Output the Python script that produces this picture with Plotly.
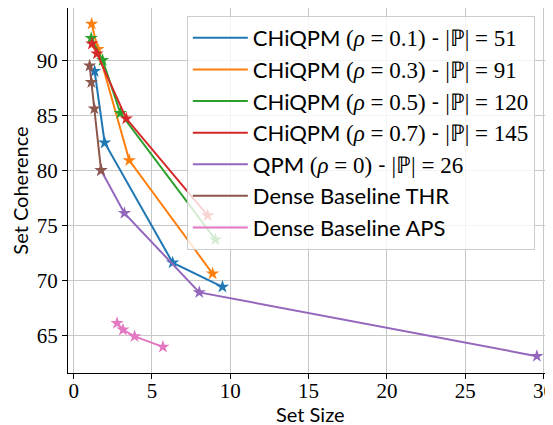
import plotly.graph_objects as go

# Data (x = Set Size, y = Set Coherence)
chiqpm01_x = [1.34, 1.98, 6.32, 9.50]
chiqpm01_y = [89.0, 82.5, 71.6, 69.4]
chiqpm03_x = [1.15, 1.55, 3.55, 8.87]
chiqpm03_y = [93.3, 91.0, 80.9, 70.6]
chiqpm05_x = [1.12, 1.85, 2.98, 9.05]
chiqpm05_y = [92.0, 90.0, 85.2, 73.7]
chiqpm07_x = [1.17, 1.49, 3.36, 8.55]
chiqpm07_y = [91.5, 90.6, 84.7, 75.9]
qpm_x = [1.75, 3.24, 8.02, 29.57]
qpm_y = [80.0, 76.1, 68.9, 63.1]
thr_x = [1.02, 1.13, 1.32, 1.75]
thr_y = [89.5, 88.0, 85.6, 80.0]
aps_x = [2.77, 3.15, 3.89, 5.70]
aps_y = [66.1, 65.5, 64.9, 63.95]

x_ticks = [0, 5, 10, 15, 20, 25, 30]
y_ticks = [65, 70, 75, 80, 85, 90]
x_title = "Set Size"
y_title = "Set Coherence"

SERIF = "Liberation Serif"
SANS = "Lato"

def m(s):
    return f"<span style='font-family:{SERIF};font-size:23px'>{s}</span>"

names = [
    "CHiQPM " + m("(<i>ρ</i> = 0.1)") + " - " + m("|ℙ| = 51"),
    "CHiQPM " + m("(<i>ρ</i> = 0.3)") + " - " + m("|ℙ| = 91"),
    "CHiQPM " + m("(<i>ρ</i> = 0.5)") + " - " + m("|ℙ| = 120"),
    "CHiQPM " + m("(<i>ρ</i> = 0.7)") + " - " + m("|ℙ| = 145"),
    "QPM " + m("(<i>ρ</i> = 0)") + " - " + m("|ℙ| = 26"),
    "Dense Baseline THR",
    "Dense Baseline APS",
]
series = [
    (chiqpm01_x, chiqpm01_y, "#1f77b4"),
    (chiqpm03_x, chiqpm03_y, "#ff7f0e"),
    (chiqpm05_x, chiqpm05_y, "#2ca02c"),
    (chiqpm07_x, chiqpm07_y, "#d62728"),
    (qpm_x, qpm_y, "#9467bd"),
    (thr_x, thr_y, "#8c564b"),
    (aps_x, aps_y, "#e377c2"),
]

fig = go.Figure()
for (xs, ys, c), n in zip(series, names):
    fig.add_trace(go.Scatter(
        x=xs, y=ys, name=n, mode="lines",
        line=dict(color=c, width=2), legendgroup=n,
    ))
    fig.add_trace(go.Scatter(
        x=xs, y=ys, name=n, mode="markers", showlegend=False, legendgroup=n,
        marker=dict(symbol="star", size=10, color=c, line=dict(width=0)),
    ))

# page body has an 8px margin: figure is sized/positioned to compensate
fig.update_layout(
    width=545, height=417,
    margin=dict(l=60, r=0, t=0, b=52),
    plot_bgcolor="white", paper_bgcolor="white",
    font=dict(family=SANS, color="black", size=18),
    showlegend=True,
    legend=dict(
        x=0.245, y=0.978, xanchor="left", yanchor="top",
        bgcolor="rgba(255,255,255,0.8)", bordercolor="#cccccc", borderwidth=1,
        font=dict(family=SANS, size=22, color="black"),
        traceorder="normal", itemwidth=55,
    ),
    xaxis=dict(
        range=[-0.36, 30.6], tickvals=x_ticks, ticktext=[str(v) for v in x_ticks],
        showgrid=True, gridcolor="#c8c8c8", gridwidth=1, zeroline=False,
        showline=True, linecolor="black", linewidth=1, mirror=True,
        ticks="outside", ticklen=5, tickcolor="black", automargin=False,
        ticklabeloverflow="allow", ticklabelstandoff=-6,
        tickfont=dict(family=SERIF, size=21),
    ),
    yaxis=dict(
        range=[61.57, 94.75], tickvals=y_ticks, ticktext=[str(v) for v in y_ticks],
        showgrid=True, gridcolor="#c8c8c8", gridwidth=1, zeroline=False,
        showline=True, linecolor="black", linewidth=1, mirror=False,
        ticks="outside", ticklen=5, tickcolor="black", automargin=False,
        ticklabeloverflow="allow",
        tickfont=dict(family=SERIF, size=21),
        title=dict(text=y_title, font=dict(family=SANS, size=20)),
    ),
    annotations=[dict(
        text=x_title, xref="paper", yref="paper", x=0.5, y=-0.111,
        xanchor="center", yanchor="middle", showarrow=False,
        font=dict(family=SANS, size=20, color="black"),
    )],
)

fig.write_html("out.html")
